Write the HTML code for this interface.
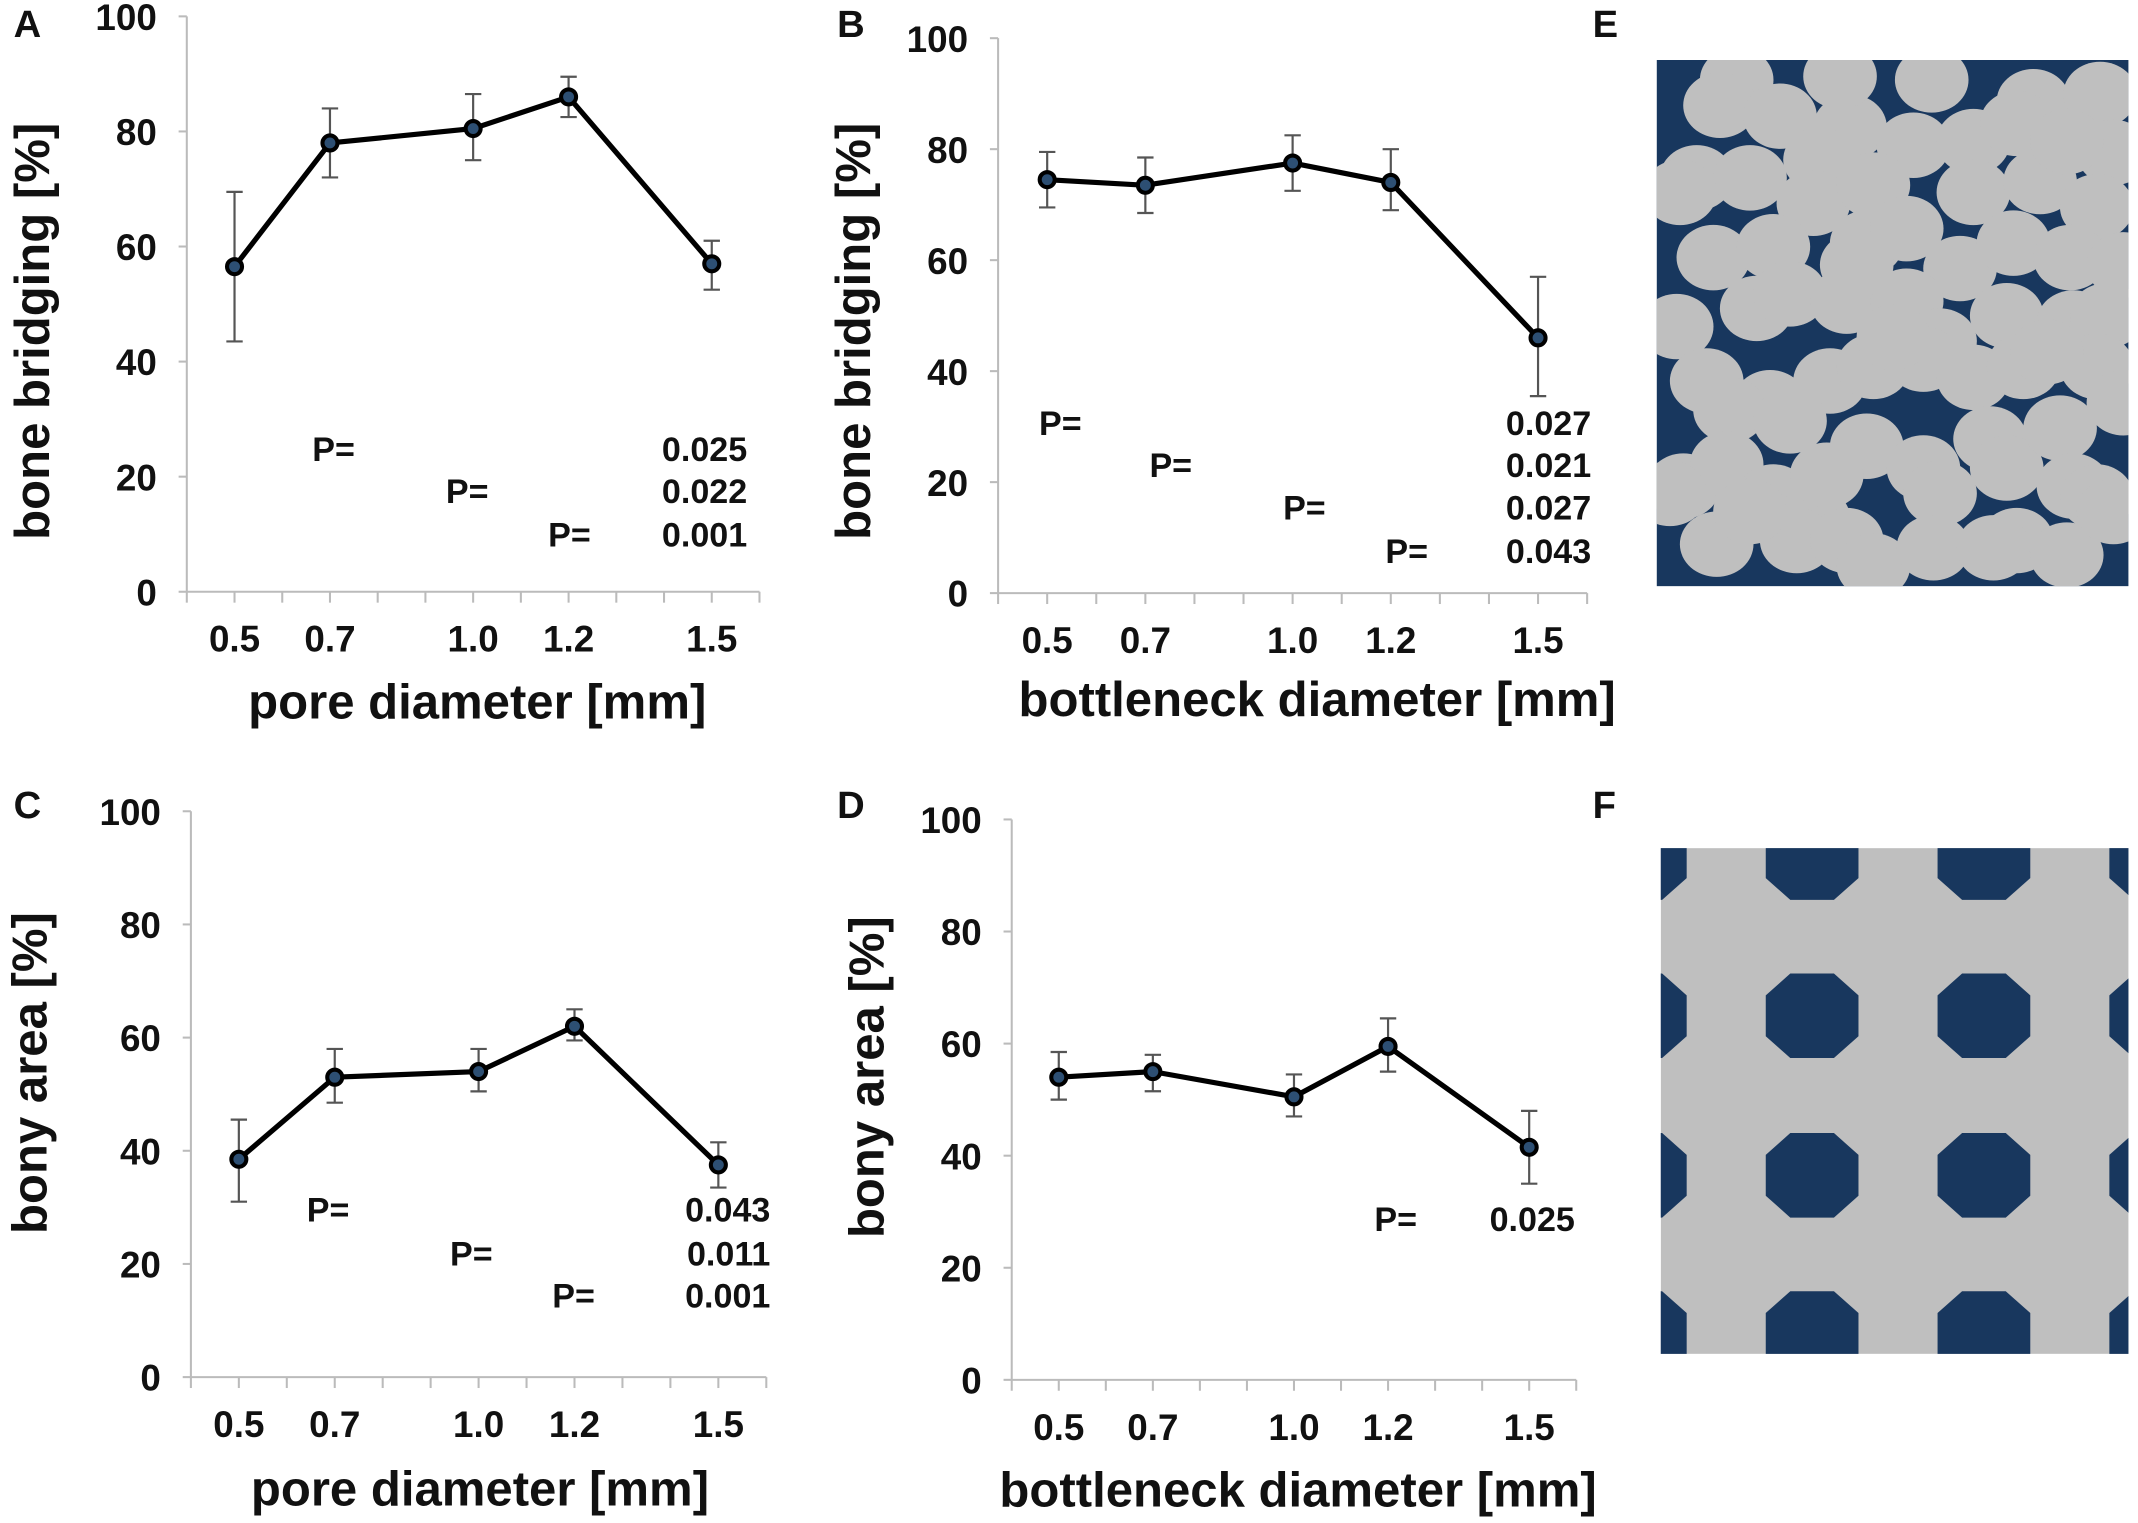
<!DOCTYPE html>
<html><head><meta charset="utf-8"><style>
html,body{margin:0;padding:0;background:#fff;}
svg{display:block;}
text{font-family:"Liberation Sans",sans-serif;font-weight:bold;fill:#111;}
</style></head><body>
<svg id="fig" width="2138" height="1523" viewBox="0 0 1568 1117" preserveAspectRatio="none" xmlns="http://www.w3.org/2000/svg">
<defs>
<clipPath id="clipE"><rect x="1215" y="44" width="346" height="386"/></clipPath>
<clipPath id="clipF"><rect x="1218" y="622" width="343" height="371"/></clipPath>
</defs>
</svg>
<script>
// shared data
const categories = [0.5, 0.7, 1.0, 1.2, 1.5];
const xTickLabels = ["0.5","0.7","1.0","1.2","1.5"];
const yTicks = [0,20,40,60,80,100];
// panel A
const meanA = [56.5, 78, 80.5, 86, 57];
const errLoA = [43.5, 72, 75, 82.5, 52.5];
const errHiA = [69.5, 84, 86.5, 89.5, 61];
const pValsA = ["0.025","0.022","0.001"];
// panel B
const meanB = [74.5, 73.5, 77.5, 74, 46];
const errLoB = [69.5, 68.5, 72.5, 69, 35.5];
const errHiB = [79.5, 78.5, 82.5, 80, 57];
const pValsB = ["0.027","0.021","0.027","0.043"];
// panel C
const meanC = [38.5, 53, 54, 62, 37.5];
const errLoC = [31, 48.5, 50.5, 59.5, 33.5];
const errHiC = [45.5, 58, 58, 65, 41.5];
const pValsC = ["0.043","0.011","0.001"];
// panel D
const meanD = [54, 55, 50.5, 59.5, 41.5];
const errLoD = [50, 51.5, 47, 55, 35];
const errHiD = [58.5, 58, 54.5, 64.5, 48];
const pValsD = ["0.025"];

const NS = "http://www.w3.org/2000/svg";
const svg = document.getElementById('fig');
function mk(tag, attrs, parent){
  const e = document.createElementNS(NS, tag);
  for (const k in attrs) e.setAttribute(k, attrs[k]);
  (parent||svg).appendChild(e);
  return e;
}

function panel(o){
  const g = mk('g', {});
  
  
  const xs = v => o.x0 + (v - 0.4) / 1.2 * (o.x1 - o.x0);
  const ys = v => o.y0 - v / 100 * (o.y0 - o.y100);
  const L = mk('text', {x:o.lx, y:o.ly, 'font-size':28}, g); L.textContent = o.letter;
  
  
  const ya = mk('line', {x1:o.x0, y1:o.y0, x2:o.x0, y2:o.y100, stroke:'#bbb', 'stroke-width':1.5}, g);
  
  
  yTicks.forEach(t => {
    mk('line', {x1:o.x0-6, y1:ys(t), x2:o.x0, y2:ys(t), stroke:'#bbb', 'stroke-width':1.5}, g);
    const tl = mk('text', {x:o.x0-22, y:ys(t)+10, 'font-size':27, 'text-anchor':'end'}, g);
    tl.textContent = t;
    
    
  });
  const xa = mk('line', {x1:o.x0, y1:o.y0, x2:o.x1, y2:o.y0, stroke:'#bbb', 'stroke-width':1.5}, g);
  
  
  for (let i = 0; i <= 12; i++){
    const v = 0.4 + i * 0.1;
    mk('line', {x1:xs(v), y1:o.y0, x2:xs(v), y2:o.y0+8, stroke:'#bbb', 'stroke-width':1.5}, g);
  }
  categories.forEach((c, i) => {
    const tl = mk('text', {x:xs(c), y:o.y0+44, 'font-size':27, 'text-anchor':'middle'}, g);
    tl.textContent = xTickLabels[i];
    
    
  });
  const xt = mk('text', {x:o.xtx, y:o.xty, 'font-size':36, 'text-anchor':'middle'}, g);
  xt.textContent = o.xTitle;
  
  
  const yt = mk('text', {x:0, y:0, 'font-size':36, 'text-anchor':'middle', transform:`translate(${o.ytx},${o.yty}) rotate(-90)`}, g);
  yt.textContent = o.yTitle;
  
  
  categories.forEach((c, i) => {
    const x = xs(c);
    const eb = mk('g', {stroke:'#555', 'stroke-width':1.6}, g);
    
    
    mk('line', {x1:x, y1:ys(o.lo[i]), x2:x, y2:ys(o.hi[i])}, eb);
    mk('line', {x1:x-6, y1:ys(o.lo[i]), x2:x+6, y2:ys(o.lo[i])}, eb);
    mk('line', {x1:x-6, y1:ys(o.hi[i]), x2:x+6, y2:ys(o.hi[i])}, eb);
  });
  const pts = categories.map((c, i) => xs(c) + ',' + ys(o.mean[i])).join(' ');
  const pl = mk('polyline', {points:pts, fill:'none', stroke:'#000', 'stroke-width':3.8, 'stroke-linejoin':'round'}, g);
  
  
  categories.forEach((c, i) => {
    const m = mk('circle', {cx:xs(c), cy:ys(o.mean[i]), r:5.5, fill:'#2d4f73', stroke:'#000', 'stroke-width':3}, g);
    
    
  });
  o.pVals.forEach((p, i) => {
    const a = mk('text', {x:o.pX[i], y:o.pY[i], 'font-size':25}, g);
    a.textContent = 'P=';
    
    
    const b = mk('text', {x:o.pvx, y:o.pY[i], 'font-size':25, 'text-anchor':'end'}, g);
    b.textContent = p;
    
    
  });
}

panel({name:'panel-a', letter:'A', lx:10, ly:27, x0:137, x1:557, y0:434, y100:12,
  mean:meanA, lo:errLoA, hi:errHiA, pVals:pValsA, pX:[229,327,402], pY:[338,369,401], pvx:548,
  xTitle:'pore diameter [mm]', xtx:350, xty:527, yTitle:'bone bridging [%]', ytx:36, yty:243});
panel({name:'panel-b', letter:'B', lx:614, ly:27, x0:732, x1:1164, y0:435, y100:28,
  mean:meanB, lo:errLoB, hi:errHiB, pVals:pValsB, pX:[762,843,941,1016], pY:[319,350,381,413], pvx:1167,
  xTitle:'bottleneck diameter [mm]', xtx:966, xty:525, yTitle:'bone bridging [%]', ytx:638, yty:243});
panel({name:'panel-c', letter:'C', lx:10, ly:600, x0:140, x1:562, y0:1010, y100:595,
  mean:meanC, lo:errLoC, hi:errHiC, pVals:pValsC, pX:[225,330,405], pY:[896,928,959], pvx:565,
  xTitle:'pore diameter [mm]', xtx:352, xty:1104, yTitle:'bony area [%]', ytx:34, yty:787});
panel({name:'panel-d', letter:'D', lx:614, ly:600, x0:742, x1:1156, y0:1012, y100:601,
  mean:meanD, lo:errLoD, hi:errHiD, pVals:pValsD, pX:[1008], pY:[903], pvx:1155,
  xTitle:'bottleneck diameter [mm]', xtx:952, xty:1105, yTitle:'bony area [%]', ytx:648, yty:790});

// Panel E
const eL = mk('text', {x:1168, y:27, 'font-size':28}); eL.textContent = 'E';


const gE = mk('g', {'clip-path':'url(#clipE)'});


mk('rect', {x:1215, y:44, width:346, height:386, fill:'#18375e'}, gE);
const blobs = [[290,110],[240,180],[420,210],[630,240],[875,110],[820,290],[1000,280],[1180,170],[1380,150],[1420,310],[170,380],[330,380],[540,330],[520,450],[700,400],[1000,420],[1200,390],[1370,460],[220,600],[400,570],[680,560],[800,520],[960,630],[1120,560],[1290,600],[110,790],[350,740],[450,700],[620,720],[800,720],[900,830],[1100,760],[1300,780],[1400,760],[200,940],[390,1000],[570,940],[700,900],[850,880],[1000,930],[1150,900],[1370,900],[270,1020],[450,1050],[680,1120],[850,1180],[900,1250],[1050,1100],[1100,1180],[1260,1070],[1300,1230],[1370,1260],[130,1230],[260,1170],[400,1260],[520,1320],[230,1390],[470,1380],[620,1380],[700,1450],[880,1400],[1130,1380],[1280,1420],[1130,230],[1450,620],[90,1250],[650,620],[760,820],[1220,860],[1450,1000],[120,420],[1060,1400],[330,1300],[560,1200],[1420,1300],[600,100],[1280,280]];
blobs.forEach(b => {
  mk('ellipse', {cx:1215+(b[0]-50)*0.2445, cy:44+(b[1]-55)*0.266, rx:27, ry:24, fill:'#bfbfbf'}, gE);
});

// Panel F
const fL = mk('text', {x:1168, y:600, 'font-size':28}); fL.textContent = 'F';


const gF = mk('g', {'clip-path':'url(#clipF)'});


mk('rect', {x:1218, y:622, width:343, height:371, fill:'#bfbfbf'}, gF);
[1203,1329,1455,1581].forEach(cx => {
  [629,745,862,978].forEach(cy => {
    const w = 34, h = 31, a = 16, b = 15;
    const p = [[cx-a,cy-h],[cx+a,cy-h],[cx+w,cy-b],[cx+w,cy+b],[cx+a,cy+h],[cx-a,cy+h],[cx-w,cy+b],[cx-w,cy-b]];
    mk('polygon', {points:p.map(q=>q.join(',')).join(' '), fill:'#18375e'}, gF);
  });
});
</script>
</body></html>
